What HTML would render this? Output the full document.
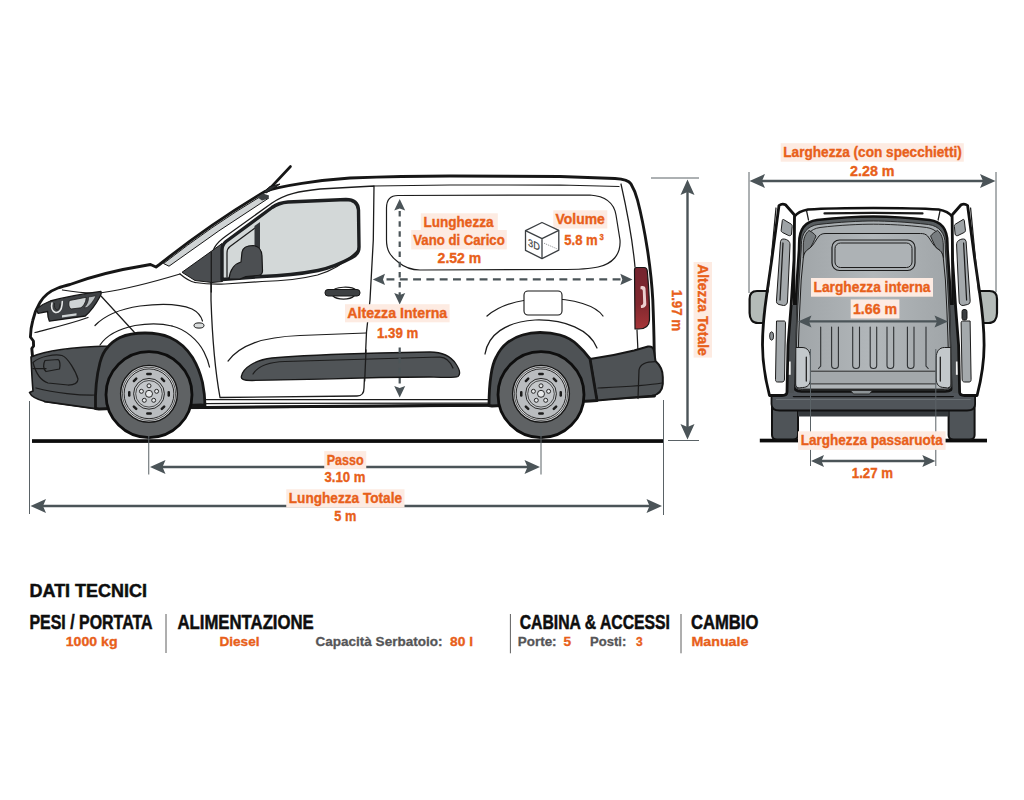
<!DOCTYPE html>
<html lang="it">
<head>
<meta charset="utf-8">
<title>Dati tecnici</title>
<style>
html,body{margin:0;padding:0;background:#fff;}
body{width:1024px;height:800px;overflow:hidden;position:relative;font-family:"Liberation Sans",sans-serif;}
svg{position:absolute;left:0;top:0;display:block;}
text{font-family:"Liberation Sans",sans-serif;font-weight:700;}
.o{fill:#e8601a;stroke:#e8601a;stroke-width:0.35;}
.lb{fill:#fdebe2;}
.k{fill:#0e0e0e;stroke:#0e0e0e;stroke-width:0.5;}
.g{fill:#555557;stroke:#555557;stroke-width:0.3;}
.ar{stroke:#4b5458;stroke-width:2.4;fill:none;}
.ah{fill:#4b5458;stroke:none;}
.thin{stroke:#5a6266;stroke-width:1;fill:none;}
.ol{stroke:#161616;stroke-width:2.900;fill:none;stroke-linejoin:round;stroke-linecap:round;}
.ln{stroke:#1c1c1c;stroke-width:1.250;fill:none;stroke-linejoin:round;stroke-linecap:round;}
.dk{fill:#4e5255;stroke:#161616;stroke-width:1.6;stroke-linejoin:round;}
</style>
</head>
<body>
<svg width="1024" height="800" viewBox="0 0 1024 800">
<rect x="0" y="0" width="1024" height="800" fill="#ffffff"/>

<!-- SIDE VIEW -->
<g id="side">
<!-- ground line -->
<rect x="32" y="439.200" width="631" height="3.700" fill="#0c0c0c"/>

<!-- body silhouette (white) -->
<path class="ol" style="fill:#fff" d="M32.500,356 L31.800,348.500 L33.600,346 L33.400,341 L30.400,337 C30.600,330 31.500,325 32.800,320.300 C34.500,313 37,307.500 39.800,302.800 C43,297 50,291 58,288 C62,286.500 66,285.500 70,284.500 C90,277 120,269.5 145,265.5 L150.500,264.500 L156,267 L159.500,264.500 Q210,224 265,191.500 C280,186 320,180 350,178 C390,176.5 420,176 450,176 L560,176.5 L615,178.5 C624,179 629,180.5 631,184 C634,189 636,194 637.5,200 C642,217 645,234 647.5,250 C650.500,270 652,285 652.800,300 C653.600,320 654,335 654.200,350 L654.500,396 L489,405 L205,407.5 L95,408 L45,401 Z"/>

<!-- windshield glass strip -->
<path d="M163.500,263.500 Q212,225.500 260,196.800 L268.500,198.200 Q219,229.500 169,266.200 Z" fill="#d0d4d5" stroke="#161616" stroke-width="1"/>
<path d="M257,197 L263,193.500 L269,195.500 L268.500,198.500 L262,200.500 Z" fill="#3c3f41"/>
<!-- antenna -->
<path d="M290.5,166.5 L268,190.5" stroke="#161616" stroke-width="2.6" stroke-linecap="round" fill="none"/>
<path d="M264,191.500 L270,186.500 L280,184 L272,189.500 L266,193 Z" fill="#2c2e30" stroke="#161616" stroke-width="1" stroke-linejoin="round"/>

<!-- inner roof line -->
<path class="ln" d="M374,186 L450,185 L560,185 L619,186.500"/>
<path class="ln" d="M621,184 C628,215 633,245 635,267"/>
<path class="ln" d="M637,330 L638,352"/>

<!-- door outline -->
<path class="ln" style="stroke-width:1.3" d="M220,397.5 C215,370 212,330 211,300 L211,262 C211,250 216,243 226,236 L272,203 C285,194 300,191 320,189 L374,186 L373.300,240 L370,300 L366.500,332 L364,388 C364,393 362,396 357,396 L220,397.5"/>

<!-- A pillar dark triangle -->
<path d="M182,272.300 L212,250.800 L222,243.500 L222.500,281.500 L212,282.500 L195,280.500 Z" fill="#4a4d50" stroke="#161616" stroke-width="1" stroke-linejoin="round"/>

<path class="ln" style="stroke-width:1.300" d="M211.300,292 L211.300,252"/>
<!-- side window -->
<path d="M222,279.5 L222,250 C222,246 223,244 226,241.5 L272,207.5 C277,204 282,202.5 288,202 L346,199.5 C354,199.5 358,203 358.5,210 L359,247 C359,252 357,255 352,257.5 C340,264 330,268 318,270.5 C300,274 280,276 262,276.5 Z" fill="#d3d8d8" stroke="#1d1f21" stroke-width="3.400" stroke-linejoin="round"/>
<path class="ln" d="M227,277 L227,253 C227,250 228,248 230,246.5 L255,228"/>
<path d="M254.500,226 L260,222 L260,276.500 L254.500,277 Z" fill="#34373a"/>
<!-- mirror -->
<path d="M229,279 C230,270 234,264 241,262 L242,252 C243,247 247,245.5 253,245.5 C259,246 261.5,249 262,256 L262.500,271 C262.500,274 260,275.500 257,275.500 L246,276.500 L240,279 Z" fill="#4c4f52" stroke="#161616" stroke-width="1.2" stroke-linejoin="round"/>
<!-- beltline -->
<path class="ln" d="M195,282.500 C205,284 215,284.500 225,284 L262,281.500 C280,281 300,279.300 317.500,275 C330,271.500 345,263 357.700,250.500"/>

<!-- door handle -->
<path class="ln" d="M332,292 C334,286 352,286 356,290"/>
<path class="ln" d="M333,296 C337,300 350,300 354,296"/>
<rect x="325" y="289.500" width="35" height="6.500" rx="3" fill="#3d4042" stroke="#161616" stroke-width="1"/>

<!-- cargo window outline -->
<path class="ln" style="stroke-width:1.2" d="M398,195.500 L590,195 C605,196 614,203 616,215 L620,240 C621,255 612,264 598,267 C590,269 575,269.500 560,269.500 L420,270 C410,270 404,267 398,262 C390,256 386.500,250 386.500,240 L386.500,208 C386.500,200 390,195.500 398,195.500 Z"/>

<!-- hood & fender lines -->
<path class="ln" d="M62.500,290 C80,293 95,293.500 103,292.500 C120,290 150,283 180,274"/>
<path class="ln" d="M180,274 C186,279 190,281.500 195,282.500"/>
<path class="ln" d="M101,296 L135,333"/>
<path class="ln" d="M95,325.500 C105,315 120,309 140,306 C160,303.500 180,304 192,309 C198,312 201,316 202.500,321"/>
<path class="ln" d="M100,345 C106,336 118,329 135,325.500 C150,323 162,323.500 172,326"/>
<path class="ln" d="M35,332.500 C50,328.500 70,324 88,317.500"/>
<ellipse cx="199" cy="325.500" rx="5" ry="2.600" fill="#d9dcdc" stroke="#161616" stroke-width="1"/>
<path class="ln" d="M172,326 C185,329 198,340 204,352 C207,358 208.500,362 209.500,367"/>

<!-- headlight -->
<path d="M36.300,309 C40,306 45,303 50.300,301 C65,297 85,293.500 101,291.400 C101.500,293 101,295 100,296.500 C96,304 91,311 85.300,316 L49.400,321.200 C48,318 47.600,315 47.600,311.500 L38,313.300 Z" fill="#3f4245" stroke="#161616" stroke-width="1.300" stroke-linejoin="round"/>
<path d="M69.500,300.500 L86,297.300 C86.500,301 84,305.500 81,307.800 L71,309 C68.500,307 68.300,303.500 69.500,300.500 Z" fill="#cfd4d5" stroke="#161616" stroke-width="0.800"/>
<path d="M88.500,297 L96,295.800 C94,300 91,304.500 87,307.500 L84,307.800 C87,305 88.800,301 88.500,297 Z" fill="#b9bec0" stroke="#161616" stroke-width="0.600"/>
<path d="M52,303 C51,307 52,311 55.500,312.500 C59,313 61.500,310 62,305 L62.300,301.500" fill="none" stroke="#e4e6e6" stroke-width="1.600" stroke-linecap="round"/>
<path d="M54.500,303 C54,306.500 55,309.500 57,310 C59,310 59.800,307 60,303.500" fill="none" stroke="#161616" stroke-width="0.700"/>
<path d="M62,315.300 L76.500,313.200 L76.500,315.400 L62,317.600 Z" fill="#cfd4d5"/>

<!-- front bumper dark -->
<path class="dk" d="M31,357 C45,351 75,347 108.500,346 L122,344 L112,407 L95,408.500 L45,401.500 C37,399.500 31,396 29.500,392.500 L33,391 C32,380 31.500,368 31,357 Z"/>
<path class="ln" d="M33,362.500 C40,356 55,354 62,355.500 C68,357.500 76,372 78,379 C78,383 74,385 68,385 L48,383 C42,381 36,374 33,362.500 Z"/>
<path class="ln" d="M45,360.500 L58,359.500 C60,360 60.500,366 59.500,369 L46,371.500 C43,369 43,364 45,360.500 Z"/>
<path class="ln" d="M33,368.500 L46,368.500"/>
<path class="ln" d="M36,388 C55,393 80,395.500 96,395"/>

<!-- front wheel arch -->
<path class="dk" style="stroke-width:2.800" d="M95.500,408.500 C95,392 96.500,376 100,362.500 C102,355 104.500,350.500 107.500,347.500 C111,343 115,340 120,337.500 C128,334 137,333 145,333 C154,333 163,334.500 170,337.500 C180,342 187,349 192.500,357.500 C197,365 200.500,374 202.500,382.500 C204,390 205,398 205,405.500 L201,405 L99,409 Z"/>
<!-- sill -->
<path class="ln" d="M205,399.500 L489,399.500"/>
<path class="ln" d="M205,403.500 L489,403"/>
<path d="M204.500,407.500 L489,405.500" stroke="#161616" stroke-width="2.400" fill="none"/>
<path d="M205,399 L205,407.500" stroke="#161616" stroke-width="1.600" fill="none"/>

<!-- side molding -->
<path d="M241.500,376 C243,368 255,360 272,358 C300,355.500 340,354 380,353 L430,352 C445,352 452,358 456,364 C460,370 461,374 458,376.500 C455,378 445,377.500 430,377 L380,377.500 C340,378.500 290,380 252,380.500 C243,380.500 240.500,379 241.500,376 Z" fill="#505457" stroke="#161616" stroke-width="1.300" stroke-linejoin="round"/>
<path class="ln" d="M253,374 C258,366 270,362 285,361.500 L440,357 C446,357 450,361 453,368"/>
<path class="ln" d="M228,361 C240,345 262,337 300,335.500 L366,333"/>
<path class="ln" style="stroke-width:1.300" d="M366,350 L364.700,381"/>

<!-- rear arch lines -->
<path class="ln" d="M487,316 C500,305 520,299 545,298.500 C575,298.500 596,306 603,316"/>
<path class="ln" d="M485,354 C488,335 505,322 535,320 C565,319 590,330 597,348"/>
<rect x="524" y="291" width="38" height="24" rx="4" fill="#fff" stroke="#161616" stroke-width="1.100"/>

<!-- tail light -->
<defs><linearGradient id="gTail" x1="0" y1="0" x2="0" y2="1"><stop offset="0" stop-color="#74242f"/><stop offset="0.600" stop-color="#82282f"/><stop offset="1" stop-color="#a63538"/></linearGradient></defs>
<path d="M636.500,267.500 L644,267.500 C646,267.500 647,268.500 647.300,271 C648.800,287 649.800,305 649.500,320 C649.200,326 645,329 638.500,329 L635,329 L634.500,270 C634.500,268.500 635,267.500 636.500,267.500 Z" fill="url(#gTail)" stroke="#161616" stroke-width="1.200" stroke-linejoin="round"/>
<path d="M640.500,286.500 C643,285.500 645,286 645.500,288.500 L646.300,304 C646.300,306.500 644,308 641,308 L640.800,305.500 C642.500,305 643.300,304 643.200,302.500 L642.800,291 C642.700,289.500 642,289 640.500,289.200 Z" fill="#ecd0d0"/>

<!-- rear bumper -->
<path class="dk" style="stroke-width:2" d="M590,359 C605,357 620,354 634,350.500 L648,346.500 C651.500,346 653.500,347.500 654,351 L655.500,361 C660,365 662.800,371 662.800,377 L662.800,384 C662.300,391 658,394.800 652,395.800 L597,400.500 Z"/>
<path class="ln" d="M638,398.500 L639,370 C640,364 646,361.500 655.500,361.500"/>
<path class="ln" d="M598,388 C620,387 645,386 662,383"/>
<!-- rear wheel arch -->
<path class="dk" style="stroke-width:2.800" d="M489,405.500 C489,395 489.500,385 491,375 C492,368 493.500,362 496,357.500 C499,351 503,346 507.500,342.500 C512,339 517,336.500 522.500,335 C528,333.300 534,332.500 540,332.500 C547,332.500 554,333.300 560,335 C567,337 573,340.500 577.500,345 C582,349 586,353.500 590,358.800 L597,400.500 L590,401 L492,406 Z"/>

<!-- wheels -->
<g id="wheelF" transform="translate(149,394.700)">
<circle r="43" fill="#5f6264" stroke="#0e0e0e" stroke-width="2.800"/>
<g transform="translate(0,-0.900)">
<circle r="28.400" fill="#d6d8da" stroke="#161616" stroke-width="1.400"/>
<circle r="26.600" fill="none" stroke="#161616" stroke-width="0.700"/>
<circle r="24.900" fill="#b9bcbf" stroke="#161616" stroke-width="0.900"/>
<circle r="15.400" fill="#c4c7ca" stroke="#161616" stroke-width="0.900"/>
<circle r="13.300" fill="none" stroke="#161616" stroke-width="0.700"/>
<g fill="#1c1c1c">
<rect x="-2.900" y="-21" width="5.800" height="2.500" rx="1.200"/>
<rect x="-2.900" y="-21" width="5.800" height="2.500" rx="1.200" transform="rotate(45)"/>
<rect x="-2.900" y="-21" width="5.800" height="2.500" rx="1.200" transform="rotate(90)"/>
<rect x="-2.900" y="-21" width="5.800" height="2.500" rx="1.200" transform="rotate(135)"/>
<rect x="-2.900" y="-21" width="5.800" height="2.500" rx="1.200" transform="rotate(180)"/>
<rect x="-2.900" y="-21" width="5.800" height="2.500" rx="1.200" transform="rotate(225)"/>
<rect x="-2.900" y="-21" width="5.800" height="2.500" rx="1.200" transform="rotate(270)"/>
<rect x="-2.900" y="-21" width="5.800" height="2.500" rx="1.200" transform="rotate(315)"/>
</g>
<g fill="#e4e6e7" stroke="#161616" stroke-width="0.900">
<circle cx="0" cy="-8" r="2"/>
<circle cx="7.600" cy="-2.500" r="2"/>
<circle cx="4.700" cy="6.500" r="2"/>
<circle cx="-4.700" cy="6.500" r="2"/>
<circle cx="-7.600" cy="-2.500" r="2"/>
</g>
<circle r="3.500" fill="#e6e8e9" stroke="#161616" stroke-width="0.900"/>
</g>
</g>
<use href="#wheelF" x="392" y="0"/>

</g>

<!-- REAR VIEW -->
<g id="rear">
<!-- rear ground line -->
<rect x="759.800" y="438.700" width="227.200" height="3.700" fill="#0c0c0c"/>
<!-- tires -->
<path d="M772,405 H798 V435 C798,438 796,439.500 793,439.500 H777 C774,439.500 772,438 772,435 Z" fill="#4f5458" stroke="#111" stroke-width="2"/>
<path d="M948.600,405 H974.600 V435 C974.600,438 972.600,439.500 969.600,439.500 H953.600 C950.600,439.500 948.600,438 948.600,435 Z" fill="#4f5458" stroke="#111" stroke-width="2"/>
<!-- under strip -->
<rect x="798" y="408" width="150.600" height="8.500" fill="#35393c"/>
<!-- bumper -->
<path d="M771.500,394 H975.100 V404 C975.100,408 972,410.500 967,410.500 H779.600 C774.600,410.500 771.500,408 771.500,404 Z" fill="#50555a" stroke="#111" stroke-width="1.800" stroke-linejoin="round"/>
<path d="M776,399.500 H970.600" stroke="#6b7175" stroke-width="1" fill="none"/>

<!-- mirrors -->
<path id="mirL" d="M767.500,291 H757 C752,291 749.600,294 749.600,299 V313 C749.600,319 752.500,323 758,323 H767.500 Z" fill="#b4bbb8" stroke="#111" stroke-width="2.200" stroke-linejoin="round"/>
<use href="#mirL" transform="translate(1746.600,0) scale(-1,1)"/>

<!-- body -->
<path d="M794,396 L794,217 C797,213 802,210.500 808,209.500 C840,207.500 907,207.500 938.600,209.500 C944.600,210.500 949.600,213 952.600,217 L952.600,396 Z" fill="#fff" stroke="#111" stroke-width="2.700" stroke-linejoin="round"/>
<path d="M824.500,213.400 Q873.300,212.200 922.500,213.400" stroke="#1a1a1a" stroke-width="2.200" fill="none" stroke-linecap="round"/>
<path class="ln" d="M806.500,210.500 L808.500,220 M940.100,210.500 L938.100,220"/>

<rect x="786" y="385" width="174.600" height="11" fill="#50555a"/>
<!-- opening frame -->
<defs>
<linearGradient id="gIn" x1="0" y1="0" x2="1" y2="0">
<stop offset="0" stop-color="#a0a5a8"/><stop offset="0.500" stop-color="#b2b7ba"/><stop offset="1" stop-color="#a0a5a8"/>
</linearGradient>
</defs>
<path d="M793.5,384.0 L793.7,365.0 L794.5,337.0 L795.5,310.0 L797.0,280.0 L799.0,250.0 L799.2,243.0 C799.2,229.0 805.0,221.5 817.0,220.0 C840,217.5 860,216.5 873.3,216.5 C886.6,216.5 906.6,217.5 929.6,220.0 C941.6,221.5 947.4,229.0 947.4,243.0 L947.6,250.0 L949.6,280.0 L951.1,310.0 L952.1,337.0 L952.9,365.0 L953.1,384.0 C953.1,389.0 950.1,391.5 945.1,391.5 L801.5,391.5 C796.5,391.5 793.5,389.0 793.5,384.0 Z" fill="#575c5f" stroke="#111" stroke-width="2.600" stroke-linejoin="round"/>
<!-- interior (ceiling / side walls) -->
<path d="M795.7,384.0 L795.9,365.0 L796.7,337.0 L797.7,310.0 L799.2,280.0 L801.2,250.0 L801.4,244.3 C801.4,233.5 807.2,226.0 818.1,224.5 C840,222.0 860,221.0 873.3,221.0 C886.6,221.0 906.6,222.0 928.5,224.5 C939.4,226.0 945.2,233.5 945.2,244.3 L945.4,250.0 L947.4,280.0 L948.9,310.0 L949.9,337.0 L950.7,365.0 L950.9,384.0 C950.9,387.0 947.9,389.5 944.4,389.5 L802.2,389.5 C798.7,389.5 795.7,387.0 795.7,384.0 Z" fill="#a9aeb1" stroke="#1c1c1c" stroke-width="0.900"/>
<path class="ln" style="stroke-width:0.900" d="M806,243 C806,235 810,229 820,227.500 C840,225 860,224.200 873.300,224.200 C886.600,224.200 906.600,225 926.600,227.500 C936.600,229 940.600,235 940.600,243"/>
<!-- dark corner wedges -->
<path id="wedgeL" d="M803.300,258 L803.300,245 C803.500,238 805.500,233.500 809,230.500 C812,232 814,233.500 816,236 C814,240.500 812,246 809.500,248.500 C807,250 804,252 803.300,258 Z" fill="#777c7f" stroke="#1c1c1c" stroke-width="0.900" stroke-linejoin="round"/>
<use href="#wedgeL" transform="translate(1746.600,0) scale(-1,1)"/>
<!-- bulkhead + floor -->
<path d="M797.7,388.5 L797.9,365.0 L798.7,337.0 L799.7,310.0 L801.2,280.0 L803.3,258.0 C804,252 807,250 809.5,248.5 C813.5,245.5 816,239.5 819,236 C821,234 823,233.5 826,233.5 L920.6,233.5 C923.6,233.5 925.6,234 927.6,236 C930.6,239.5 933.1,245.5 937.1,248.5 C939.6,250 942.6,252 943.3,258 L945.4,280.0 L946.9,310.0 L947.9,337.0 L948.7,365.0 L948.9,388.5 Z" fill="url(#gIn)" stroke="#1c1c1c" stroke-width="1" stroke-linejoin="round"/>
<!-- bulkhead window -->
<rect x="832" y="240" width="83" height="30.500" rx="7.500" fill="#a9aeb1" stroke="#1c1c1c" stroke-width="1.200"/>
<rect x="835" y="243" width="77" height="24.500" rx="5.500" fill="#adb2b5" stroke="#1c1c1c" stroke-width="1"/>

<!-- floor -->
<rect x="798.300" y="371.300" width="150" height="12.500" fill="#a3a8ab"/>
<rect x="798.300" y="383.800" width="150" height="4.800" fill="#b0b5b8"/>
<path d="M810.400,371.200 H936.200 M810.400,383.900 H936.200" stroke="#2a2a2a" stroke-width="1" fill="none"/>
<path d="M850.600,390.500 L853.500,394 H869.500 L872.200,390.500 Z" stroke="#2a2a2a" stroke-width="0.900" fill="#8e9497"/>
<g stroke="#2e3133" stroke-width="1.100" fill="none" stroke-linecap="round">
<path d="M820.700,327 V366 L818.500,368.500"/>
<path d="M831.600,327 V365.500 C831.600,369.500 838.400,369.500 838.400,365.500 V327"/>
<path d="M852.700,327 V365.500 C852.700,369.500 859.500,369.500 859.500,365.500 V327"/>
<path d="M870.200,327 V365.500 C870.200,369.500 876.700,369.500 876.700,365.500 V327"/>
<path d="M887,327 V365.500 C887,369.500 893.700,369.500 893.700,365.500 V327"/>
<path d="M907.400,327 V365.500 C907.400,369.500 914,369.500 914,365.500 V327"/>
<path d="M926,327 V366 L928.200,368.500"/>
</g>
<!-- wheel boxes -->
<path d="M795.800,347.500 H802 C807.500,347.500 810.400,351.500 810.400,358 V379 C810.400,384.500 807.500,387.500 802.500,387.500 L799,388 C796.500,387.500 795.700,386 795.700,384 Z" fill="#c3c8cb" stroke="#1c1c1c" stroke-width="1"/>
<path d="M 950.8,347.500 H 944.6 C 939.1,347.500 936.2,351.500 936.2,358 V 379 C 936.2,384.500 939.1,387.500 944.1,387.500 L 947.6,388 C 950.1,387.500 950.9,386 950.9,384 Z" fill="#c3c8cb" stroke="#1c1c1c" stroke-width="1"/>
<path class="ln" d="M806.300,357 V381 M940.300,357 V381"/>

<!-- doors -->
<g id="doorL">
<path d="M789,305 H796.500 L794,393 H786.500 L787,345 Z" fill="#4c5053"/>
<rect x="787.500" y="361.500" width="3.200" height="13.300" fill="#f4f4f4"/>
<path d="M779,205.500 C781,204 783.500,203.800 785.500,204.800 L794.500,215 L794,260 L791,307 L788,345 L787,392 C787,394.500 785,395.500 782,395.500 L769.500,395.500 C765,378 762.500,360 762.500,345 C762.500,328 765,306 767,292.500 L772,258 Z" fill="#fff" stroke="#111" stroke-width="2.800" stroke-linejoin="round"/>
<path d="M783.500,219.500 L791,224 C792,224.600 792.300,225.500 792.200,226.600 L791.500,234 C791.300,235.500 790,236 788.800,235.600 L782.500,232.500 C781.500,232 781,231 781.200,230 L782.300,220.500 C782.400,219.600 782.900,219.300 783.500,219.500 Z" fill="#9ea3a6" stroke="#1c1c1c" stroke-width="1" stroke-linejoin="round"/>
<path d="M781.500,239.500 C783,238.500 786,239 788,240.500 C789.500,241.500 790,243 790,245 L787.500,301 C787.500,304 786,305.500 783.500,305.500 L779,304.500 C777,304 776.200,302.500 776.500,300 L780.500,241.500 Z" fill="#a4a9ac" stroke="#1c1c1c" stroke-width="1" stroke-linejoin="round"/>
<path class="ln" d="M783,243 L780,300"/>
<path d="M776.500,321 H784 C785,321 785.500,321.800 785.500,323 L784.500,379 C784.500,381 783.500,382 782,382 H777.500 C776,382 775.500,381 775.500,379.500 Z" fill="#a4a9ac" stroke="#1c1c1c" stroke-width="1" stroke-linejoin="round"/>
<path class="ln" d="M776,208 L768,292"/>
</g>
<ellipse cx="771.600" cy="336" rx="2" ry="4.200" fill="#8e9396" stroke="#1c1c1c" stroke-width="0.900"/>
<use href="#doorL" transform="translate(1746.600,0) scale(-1,1)"/>
<rect x="962" y="309.500" width="5" height="10.500" rx="2" fill="#3a3d40" stroke="#111" stroke-width="0.900"/>

<!-- interior width arrow -->
<path class="ar" d="M808,321.400 H938"/>
<path class="ah" d="M798,321.400 L811.500,315.400 L809,321.400 L811.500,327.400 Z"/>
<path class="ah" d="M948,321.400 L934.500,315.400 L937,321.400 L934.500,327.400 Z"/>

</g>

<!-- DIMENSIONS -->
<g id="dims">
<!-- thin extension lines -->
<path class="thin" d="M29.500,401 V514 M148.750,436 V474.500 M541,428 V474.500 M663.500,400 V515"/>
<path class="thin" d="M651,178 H699 M668,440.500 H699"/>
<path class="thin" d="M749,172 V293 M996,172 V292 M810.500,349 V466 M935.800,349 V466"/>

<!-- Passo -->
<path class="ar" d="M160,467 H530"/>
<path class="ah" d="M150,467 L165.500,460 L162.500,467 L165.500,474 Z"/>
<path class="ah" d="M540,467 L524.500,460 L527.500,467 L524.500,474 Z"/>
<!-- Lunghezza totale -->
<path class="ar" d="M40,506 H652"/>
<path class="ah" d="M30.500,506 L46,499 L43,506 L46,513 Z"/>
<path class="ah" d="M662,506 L646.500,499 L649.500,506 L646.500,513 Z"/>
<!-- Altezza totale -->
<path class="ar" d="M687.500,190 V429"/>
<path class="ah" d="M687.500,179.500 L680.500,195 L687.500,192 L694.500,195 Z"/>
<path class="ah" d="M687.500,439.500 L680.500,424 L687.500,427 L694.500,424 Z"/>
<!-- interior vertical dashed -->
<path d="M399.700,211 V296" stroke="#4b5458" stroke-width="2.200" stroke-dasharray="5.500 4.650" fill="none"/>
<path class="ah" d="M399.700,199 L394.200,210.500 L399.700,208.500 L405.200,210.500 Z"/>
<path class="ah" d="M399.700,304.500 L394.200,293 L399.700,295 L405.200,293 Z"/>
<path d="M399.700,347.500 V388" stroke="#4b5458" stroke-width="2.200" stroke-dasharray="5.500 4.650" fill="none"/>
<path class="ah" d="M399.700,397.500 L394.200,386 L399.700,388 L405.200,386 Z"/>
<!-- interior horizontal dashed -->
<path d="M386.500,279.400 H622" stroke="#4b5458" stroke-width="2.200" stroke-dasharray="7.900 5.400" fill="none"/>
<path class="ah" d="M372.800,279.400 L385,273.700 L383,279.400 L385,285.100 Z"/>
<path class="ah" d="M632.500,279.400 L620.300,273.700 L622.300,279.400 L620.300,285.100 Z"/>

<!-- rear: total width -->
<path class="ar" d="M760,181 H985"/>
<path class="ah" d="M749.500,181 L765,174 L762,181 L765,188 Z"/>
<path class="ah" d="M995.500,181 L980,174 L983,181 L980,188 Z"/>
<!-- rear: passaruota -->
<path class="ar" d="M820,461 H926"/>
<path class="ah" d="M811,461 L824,455 L821.500,461 L824,467 Z"/>
<path class="ah" d="M935.300,461 L922.300,455 L924.800,461 L922.300,467 Z"/>

</g>

<!-- LABELS -->
<g id="labels">
<g font-size="14.200" text-anchor="middle">
<!-- Passo -->
<rect class="lb" x="324.250" y="451.100" width="42" height="18"/>
<text class="o" x="345.250" y="465" textLength="37" lengthAdjust="spacingAndGlyphs">Passo</text>
<text class="o" x="345" y="481.750" textLength="41" lengthAdjust="spacingAndGlyphs">3.10 m</text>
<!-- Lunghezza Totale -->
<rect class="lb" x="286.250" y="489.250" width="118.250" height="18.250"/>
<text class="o" x="345.400" y="502.500" textLength="113.250" lengthAdjust="spacingAndGlyphs">Lunghezza Totale</text>
<text class="o" x="345.250" y="520.500" textLength="22" lengthAdjust="spacingAndGlyphs">5 m</text>
<!-- Altezza interna -->
<rect class="lb" x="345" y="304.200" width="104.600" height="18.100"/>
<text class="o" x="397.250" y="317.800" textLength="100" lengthAdjust="spacingAndGlyphs">Altezza Interna</text>
<text class="o" x="397.600" y="338" textLength="41.300" lengthAdjust="spacingAndGlyphs">1.39 m</text>
<!-- Lunghezza vano di carico -->
<rect class="lb" x="420.800" y="213.300" width="77" height="16.900"/>
<rect class="lb" x="411.200" y="230" width="95.600" height="19.400"/>
<text class="o" x="458.500" y="227" textLength="70" lengthAdjust="spacingAndGlyphs">Lunghezza</text>
<text class="o" x="459" y="244.700" textLength="91.500" lengthAdjust="spacingAndGlyphs">Vano di Carico</text>
<text class="o" x="459.400" y="263.400" textLength="43.600" lengthAdjust="spacingAndGlyphs">2.52 m</text>
<!-- Volume -->
<rect class="lb" x="553.300" y="210.300" width="54" height="18.200"/>
<text class="o" x="580.200" y="223.600" textLength="49.200" lengthAdjust="spacingAndGlyphs">Volume</text>
<text class="o" x="581" y="244.700" textLength="33.500" lengthAdjust="spacingAndGlyphs" text-anchor="middle">5.8 m</text>
<text class="o" x="601.700" y="239.700" font-size="9" textLength="4.300" lengthAdjust="spacingAndGlyphs">3</text>
<!-- Altezza totale (rotated) -->
<rect class="lb" x="693.600" y="262" width="18.400" height="95.600"/>
<text class="o" transform="translate(698,310) rotate(90)" x="0" y="0" textLength="91.500" lengthAdjust="spacingAndGlyphs">Altezza Totale</text>
<text class="o" transform="translate(672.300,310.400) rotate(90)" x="0" y="0" textLength="41.300" lengthAdjust="spacingAndGlyphs">1.97 m</text>
<!-- Larghezza con specchietti -->
<rect class="lb" x="780.700" y="143.200" width="183.100" height="18.500"/>
<text class="o" x="872.500" y="156.700" textLength="178.500" lengthAdjust="spacingAndGlyphs">Larghezza (con specchietti)</text>
<text class="o" x="872.300" y="175.500" textLength="44.500" lengthAdjust="spacingAndGlyphs">2.28 m</text>
<!-- Larghezza interna -->
<rect class="lb" x="811" y="278" width="122" height="18.700"/>
<text class="o" x="872" y="292" textLength="117" lengthAdjust="spacingAndGlyphs">Larghezza interna</text>
<rect class="lb" x="850.700" y="299.500" width="48.700" height="19"/>
<text class="o" x="875" y="313.800" textLength="44" lengthAdjust="spacingAndGlyphs">1.66 m</text>
<!-- Larghezza passaruota -->
<rect class="lb" x="798" y="431.300" width="147.600" height="18.600"/>
<text class="o" x="871.800" y="445" textLength="142" lengthAdjust="spacingAndGlyphs">Larghezza passaruota</text>
<text class="o" x="872.400" y="477.800" textLength="41.200" lengthAdjust="spacingAndGlyphs">1.27 m</text>
</g>
<!-- 3D cube icon -->
<g fill="none" stroke="#3b3f42" stroke-width="1.300" stroke-linejoin="round">
<path d="M542,222.500 L558.800,230.300 L558.800,250.200 L542,258.600 L525.500,250.400 L525.500,230.600 Z"/>
<path d="M525.500,230.600 L542,238.600 L558.800,230.300 M542,238.600 V258.600"/>
<path d="M544,243.200 L557.700,249.100" stroke-width="0.700" stroke-dasharray="1.200 0.900" stroke="#6a6e71"/>
</g>
<text transform="translate(534,248.400) skewY(24)" x="0" y="0" font-size="10.500" style="font-weight:400" fill="#3b3f42" stroke="#3b3f42" stroke-width="0.200" text-anchor="middle" textLength="11.800" lengthAdjust="spacingAndGlyphs">3D</text>

</g>

<!-- BOTTOM DATA -->
<g id="data">
<g>
<text class="k" x="29.500" y="597" font-size="19" textLength="117.500" lengthAdjust="spacingAndGlyphs">DATI TECNICI</text>
<text class="k" x="29.500" y="629.300" font-size="19.300" textLength="123" lengthAdjust="spacingAndGlyphs">PESI / PORTATA</text>
<text class="k" x="177.500" y="629.300" font-size="19.300" textLength="136.250" lengthAdjust="spacingAndGlyphs">ALIMENTAZIONE</text>
<text class="k" x="519.700" y="629.300" font-size="19.300" textLength="150.300" lengthAdjust="spacingAndGlyphs">CABINA &amp; ACCESSI</text>
<text class="k" x="691" y="629.300" font-size="19.300" textLength="67.400" lengthAdjust="spacingAndGlyphs">CAMBIO</text>
<path d="M166,614 V653 M510.400,614 V653.300 M681,614 V653.300" stroke="#5f5f5f" stroke-width="1" fill="none"/>
<g font-size="13.600">
<text class="o" x="65.750" y="646.300" textLength="51.750" lengthAdjust="spacingAndGlyphs">1000 kg</text>
<text class="o" x="219.500" y="646.300" textLength="40" lengthAdjust="spacingAndGlyphs">Diesel</text>
<text class="g" x="315.500" y="646.300" textLength="127" lengthAdjust="spacingAndGlyphs">Capacità Serbatoio:</text>
<text class="o" x="450" y="646.300" textLength="23" lengthAdjust="spacingAndGlyphs">80 l</text>
<text class="g" x="517.800" y="646.300" textLength="38.800" lengthAdjust="spacingAndGlyphs">Porte:</text>
<text class="o" x="563.400" y="646.300" textLength="7.600" lengthAdjust="spacingAndGlyphs">5</text>
<text class="g" x="590" y="646.300" textLength="36.300" lengthAdjust="spacingAndGlyphs">Posti:</text>
<text class="o" x="636" y="646.300" textLength="6.700" lengthAdjust="spacingAndGlyphs">3</text>
<text class="o" x="691.400" y="646.300" textLength="57" lengthAdjust="spacingAndGlyphs">Manuale</text>
</g>
</g>

</g>
</svg>
</body>
</html>
